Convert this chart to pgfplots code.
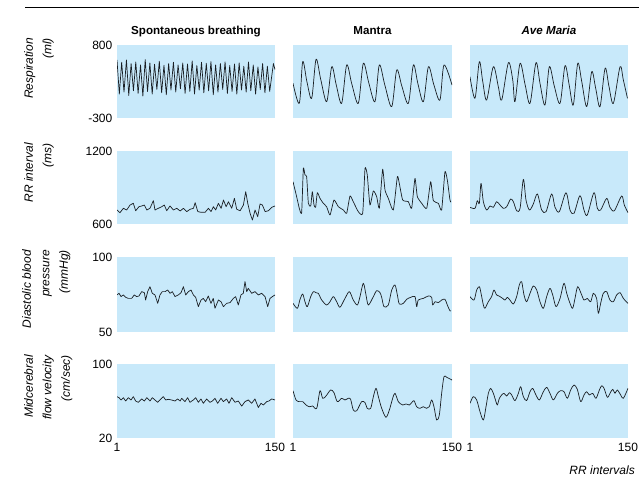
\documentclass[border=0pt]{standalone}
\usepackage{fontspec}
\setmainfont{Liberation Sans}
\usepackage{pgfplots}
\pgfplotsset{compat=1.18}
\definecolor{bgblue}{RGB}{200,233,250}
\definecolor{trace}{RGB}{25,30,35}
\newcommand{\fs}{\fontsize{12}{14}\selectfont}
\newcommand{\ls}{\fontsize{12}{18.5}\selectfont\itshape}
\pgfplotsset{
  panel/.style={scale only axis, width=158pt, height=73pt, xmin=1, xmax=150,
    axis background/.style={fill=bgblue, draw=none},
    axis line style={draw=none},
    major tick length=0pt, tick style={draw=none},
    xtick={1,150}, xticklabels={}, ytick=\empty,
    yticklabel style={font=\fs, inner sep=0pt, anchor=east, xshift=-4.5pt},
    xticklabel style={font=\fs, inner sep=0pt, anchor=north, yshift=-5pt},
    /pgf/number format/assume math mode=true,
    anchor=south west},
  pl/.style={trace, line width=0.7pt, line join=round, mark=none},
  sm/.style={pl, smooth, tension=0.5}
}
\begin{document}
\begin{tikzpicture}[x=1pt,y=1pt]
\useasboundingbox (0,0) rectangle (639,492);
\draw[line width=1pt] (25,484) -- (639,484);
% column titles
\node[anchor=base, font=\fontsize{11.6}{14}\selectfont\bfseries] at (196,457) {Spontaneous breathing};
\node[anchor=base, font=\fontsize{11.6}{14}\selectfont\bfseries] at (372.5,457) {Mantra};
\node[anchor=base, font=\fontsize{11.6}{14}\selectfont\bfseries\itshape] at (549,457) {Ave Maria};
% row labels
\node[rotate=90, anchor=north east, align=right, inner sep=0pt, font=\ls] at (24,454) {Respiration\\(ml)};
\node[rotate=90, anchor=north east, align=right, inner sep=0pt, font=\ls] at (24,349) {RR interval\\(ms)};
\node[rotate=90, anchor=north east, align=right, inner sep=0pt, font=\ls] at (22,242) {Diastolic blood\\pressure\\(mmHg)};
\node[rotate=90, anchor=north east, align=right, inner sep=0pt, font=\ls] at (24,137) {Midcerebral\\flow velocity\\(cm/sec)};
\node[anchor=base east, inner sep=0pt, font=\fs\itshape] at (635,17) {RR intervals};

% ---------- Row 1: Respiration ----------
\begin{axis}[panel, at={(117pt,374pt)}, ymin=-300, ymax=800, ytick={-300,800}, yticklabels={-300,800}]
\addplot[pl] coordinates {(1,574) (3.2,60) (5.4,540) (7.6,90) (9.9,575) (12.1,40) (14.3,520) (16.5,110) (18.7,545) (20.9,70) (23.2,500) (25.4,30) (27.6,580) (29.8,100) (32.0,530) (34.2,60) (36.4,510) (38.6,130) (40.9,555) (43.1,80) (45.3,495) (47.5,50) (49.7,520) (51.9,120) (54.2,540) (56.4,90) (58.6,500) (60.8,140) (63.0,530) (65.2,70) (67.5,515) (69.7,100) (71.9,560) (74.1,60) (76.3,490) (78.5,120) (80.7,540) (82.9,80) (85.2,525) (87.4,110) (89.6,550) (91.8,50) (94.0,500) (96.2,90) (98.5,520) (100.7,130) (102.9,545) (105.1,70) (107.3,490) (109.5,100) (111.8,515) (114.0,60) (116.2,530) (118.4,120) (120.6,480) (122.8,90) (125.0,545) (127.2,110) (129.5,500) (131.7,60) (133.9,470) (136.1,130) (138.3,520) (140.5,80) (142.8,480) (145.0,100) (148.5,520) (150,430)};
\end{axis}
\begin{axis}[panel, width=159pt, at={(293pt,374pt)}, ymin=-300, ymax=800]
\addplot[sm] coordinates {(1,223) (6.9,-79) (10.1,549) (14,250) (18.5,-3) (22.6,584) (27,280) (32.6,-54) (37.3,473) (41.5,200) (46.6,-79) (51.3,499) (56,220) (62.2,-79) (66.9,524) (72,230) (77.8,-54) (81.9,499) (87,200) (93.5,-129) (98.2,423) (103,180) (109.1,-79) (113.8,499) (118,220) (123.2,-54) (127.9,473) (133,200) (138.7,-29) (142.5,499) (150,197)};
\end{axis}
\begin{axis}[panel, at={(470pt,374pt)}, ymin=-300, ymax=800]
\addplot[sm] coordinates {(1,322) (5.7,-3) (9.8,549) (13,250) (16.7,-29) (23.0,473) (27.7,172) (30.9,-29) (37.2,533) (41.3,273) (43.4,-54) (48.2,524) (53,200) (57.6,-79) (63.2,533) (67,223) (71.7,-104) (75.8,473) (80.5,180) (85.9,-79) (90.6,488) (94.5,200) (98.4,-104) (102.6,524) (106.4,247) (111.1,-129) (115.8,398) (119.5,150) (123.6,-129) (128.4,449) (132,180) (136.2,-79) (142.5,473) (145.6,273) (149.5,-3)};
\end{axis}

% ---------- Row 2: RR interval ----------
\begin{axis}[panel, at={(117pt,268pt)}, ymin=600, ymax=1200, ytick={600,1200}, yticklabels={600,1200}]
\addplot[pl] coordinates {(1,715) (3.8,693) (7.0,729) (10.1,715) (13.3,756) (16.4,770) (18.6,709) (21.7,742) (24.3,748) (26.8,756) (29.1,715) (32.1,729) (35.3,792) (36.8,715) (40.0,729) (43.2,742) (45.6,756) (47.9,709) (51.0,748) (54.2,715) (57.4,729) (60.5,707) (63.7,729) (66.8,702) (70.0,721) (73.1,729) (74.7,775) (77.2,702) (80.3,696) (84.1,696) (87.2,729) (89.7,702) (91.9,742) (94.1,715) (96.6,770) (99.2,729) (101.4,797) (103.9,742) (106.1,783) (109.2,729) (111.7,811) (113.9,721) (117.1,709) (120.2,756) (122.4,866) (124.3,770) (126.5,688) (128.7,633) (131.2,715) (133.7,660) (135.9,764) (138.1,756) (140.7,702) (143.8,709) (146.9,737) (150,748)};
\end{axis}
\begin{axis}[panel, width=159pt, at={(293pt,268pt)}, ymin=600, ymax=1200]
\addplot[pl, smooth, tension=0.3] coordinates {(1,948) (4.4,825) (6.9,729) (9.1,693) (10.7,1058) (12.2,1003) (13.8,989) (15.4,770) (17.6,748) (19.1,866) (20.7,756) (22.2,737) (23.8,857) (26.3,811) (29.4,770) (32.5,742) (35.7,674) (39.4,797) (43.5,742) (48.2,715) (51.3,688) (54.4,830) (57.5,783) (62.2,701) (66.3,688) (68.5,1058) (70.6,1003) (73.1,756) (76.3,871) (79.4,825) (81.9,729) (85.0,1050) (87.2,879) (90.3,811) (95.0,715) (98.8,989) (100.6,934) (103.8,797) (109.1,783) (112.2,729) (115.3,975) (117.5,825) (121.6,770) (126.3,729) (130.0,948) (132.5,792) (137.2,770) (140.3,715) (143.4,1030) (145.6,962) (148.1,797) (149,780)};
\end{axis}
\begin{axis}[panel, at={(470pt,268pt)}, ymin=600, ymax=1200]
\addplot[sm] coordinates {(1,737) (5.7,729) (7.9,792) (9.8,770) (11.4,934) (13.6,783) (16.7,715) (19.9,748) (23.0,737) (26.1,783) (29.3,756) (32.4,729) (35.6,742) (39.3,805) (41.9,783) (45.0,709) (48.2,729) (51.3,967) (53.8,797) (57.0,715) (60.7,764) (64.5,847) (68.6,715) (72.7,701) (78.0,847) (81.2,737) (85.2,701) (91.5,857) (95.3,715) (99.1,688) (104.7,833) (108.5,715) (111.6,674) (117.9,857) (121.1,729) (124.2,715) (129.9,811) (133.0,737) (137.1,709) (144.0,830) (146.5,756) (150,693)};
\end{axis}

% ---------- Row 3: Diastolic blood pressure ----------
\begin{axis}[panel, height=75pt, at={(117pt,160pt)}, ymin=50, ymax=100, ytick={50,100}, yticklabels={50,100}]
\addplot[pl] coordinates {(1,74.7) (2.9,75.8) (4.8,73.6) (7.0,74.7) (9.2,73.1) (11.7,72.4) (14.8,72.4) (17.3,74.7) (19.5,73.6) (21.7,74.0) (24.3,76.9) (26.8,76.2) (28.0,71.3) (29.9,76.9) (32.1,80.2) (34.3,75.8) (36.8,74.7) (39.4,69.1) (41.5,74.7) (43.7,76.9) (46.3,76.9) (48.8,78.0) (51.0,75.8) (53.2,76.9) (55.7,73.6) (58.8,74.7) (61.4,76.2) (63.6,80.2) (65.8,74.7) (68.3,76.9) (70.8,78.0) (73.0,74.7) (75.2,73.1) (77.7,66.9) (80.2,71.3) (82.4,72.4) (84.6,70.2) (87.1,74.0) (89.6,69.1) (91.8,72.4) (93.4,65.8) (96.6,71.3) (99.1,70.2) (101.3,66.9) (104.4,69.1) (107.6,69.6) (110.7,72.4) (112.9,73.6) (115.4,68.0) (117.9,74.7) (120.1,75.8) (121.7,83.6) (123.3,76.9) (124.8,79.1) (128.0,75.8) (131.1,76.9) (134.3,74.7) (137.4,75.8) (140.6,73.6) (143.1,66.9) (145.3,72.4) (147.5,73.6) (150,74.7)};
\end{axis}
\begin{axis}[panel, width=159pt, height=75pt, at={(293pt,160pt)}, ymin=50, ymax=100]
\addplot[sm] coordinates {(1,69.1) (5.1,65.8) (7.6,71.8) (10.1,75.3) (12.2,70.2) (14.4,66.9) (17.6,73.6) (20.1,76.9) (22.6,76.2) (24.7,75.8) (27.9,71.3) (32.5,68.0) (35.7,70.2) (38.8,73.6) (41.9,70.2) (45.0,66.5) (49.7,72.4) (53.8,76.9) (57.5,71.3) (61.3,68.0) (63.8,73.6) (66.9,82.5) (69.4,74.7) (71.6,68.0) (76.3,73.6) (79.4,77.6) (82.5,76.2) (84.1,73.1) (86.3,66.9) (90.3,68.0) (93.5,78.0) (96.6,81.3) (98.8,74.7) (100.6,68.7) (104.4,69.1) (107.5,71.8) (111.3,73.1) (115.3,73.6) (116.9,66.9) (118.4,71.3) (123.1,72.4) (127.8,74.0) (130.9,73.1) (131.9,68.0) (134.1,70.2) (137.2,69.6) (140.3,71.3) (143.4,71.8) (145.6,68.0) (148,64.2) (149,64)};
\end{axis}
\begin{axis}[panel, height=75pt, at={(470pt,160pt)}, ymin=50, ymax=100]
\addplot[sm] coordinates {(1,73.6) (4.8,71.3) (7.3,78.0) (9.8,80.2) (11.4,75.8) (13.6,68.0) (15.1,65.8) (18.3,70.2) (21.4,73.6) (23.6,78.0) (26.1,74.7) (29.3,73.6) (31.8,72.4) (34.0,71.3) (36.2,73.1) (38.7,71.3) (41.9,68.7) (45.0,73.6) (47.5,81.3) (49.7,83.6) (51.9,74.7) (54.4,70.2) (57.6,75.8) (60.7,80.7) (63.9,78.0) (67.0,70.2) (70.2,65.8) (73.3,73.6) (76.4,79.1) (79.0,74.7) (82.1,66.9) (85.9,72.4) (89.6,82.5) (92.2,75.8) (95.3,69.1) (97.8,65.8) (100.0,72.4) (102.5,80.2) (105.7,75.8) (108.5,71.3) (111.6,72.4) (114.8,70.2) (117.3,75.8) (120.4,72.4) (122.0,62.4) (124.2,69.1) (126.7,75.8) (129.9,76.9) (133.0,71.3) (136.2,70.2) (139.3,74.7) (142.5,76.2) (145.6,72.4) (150,69.1)};
\end{axis}

% ---------- Row 4: Midcerebral flow velocity ----------
\begin{axis}[panel, height=74pt, at={(117pt,54pt)}, ymin=20, ymax=100, ytick={20,100}, yticklabels={20,100}, xticklabels={1,150}]
\addplot[pl] coordinates {(1,64.7) (2.9,63.6) (4.8,61.1) (7.0,63.6) (9.2,60.0) (11.7,63.6) (14.2,61.1) (16.4,64.7) (18.6,60.0) (21.1,58.6) (24.3,62.2) (26.8,60.0) (29.1,63.6) (32.1,60.0) (34.3,63.6) (36.8,61.1) (39.4,58.6) (41.5,61.1) (44.7,64.7) (46.9,61.1) (49.4,61.8) (52.5,61.1) (55.7,60.0) (58.2,62.2) (60.5,60.0) (62.0,62.9) (65.1,59.3) (67.6,63.6) (69.8,58.6) (73.0,61.1) (75.2,63.6) (77.7,58.6) (80.2,62.2) (82.4,57.5) (85.6,62.2) (88.7,58.6) (90.9,60.0) (93.4,62.9) (95.9,57.5) (99.1,62.9) (101.3,59.3) (104.4,62.2) (106.6,57.5) (109.2,63.6) (112.3,58.6) (115.4,60.0) (118.6,54.5) (121.7,59.3) (124.8,61.1) (128.0,57.5) (131.1,62.2) (134.3,53.0) (136.8,57.5) (139.0,55.7) (142.1,59.3) (144.3,60.0) (146.9,62.2) (150,61.1)};
\end{axis}
\begin{axis}[panel, width=159pt, height=74pt, at={(293pt,54pt)}, ymin=20, ymax=100, xticklabels={1,150}]
\addplot[sm] coordinates {(1,71.2) (3.8,61.1) (6.9,59.3) (10.1,59.3) (13.2,55.7) (16.3,53.8) (19.4,54.6) (23.2,52.1) (26.3,71.2) (28.8,62.9) (31.9,65.4) (36.3,71.9) (39.4,69.0) (42.5,59.3) (46.6,62.9) (49.7,61.1) (52.8,62.9) (55.0,61.8) (57.5,50.3) (60.7,49.5) (65.3,59.3) (68.5,58.2) (70.6,52.1) (73.8,52.1) (76.3,64.7) (78.8,73.7) (81.0,64.7) (84.1,52.1) (88.1,42.4) (91.3,50.3) (94.4,62.9) (96.6,68.3) (99.7,59.3) (103.8,55.7) (106.9,56.8) (110.0,55.7) (112.2,58.2) (114.4,60.4) (116.9,53.8) (120.0,52.1) (123.1,53.8) (126.2,52.1) (128.7,53.8) (130.9,61.1) (133.1,53.8) (135.6,39.5) (138.1,44.9) (140.3,68.3) (142.5,86.3) (145.0,85.6) (150,82.7)};
\end{axis}
\begin{axis}[panel, height=74pt, at={(470pt,54pt)}, ymin=20, ymax=100, xticklabels={1,150}]
\addplot[sm] coordinates {(1,57.5) (4.1,64.7) (7.3,61.1) (10.4,48.5) (13.6,39.5) (16.1,53.8) (18.3,68.3) (20.5,73.7) (23.0,68.3) (25.5,59.3) (26.8,55.7) (28.7,62.9) (30.9,66.5) (33.1,68.3) (35.6,65.4) (38.1,69.0) (40.3,66.5) (43.4,60.4) (46.6,68.3) (48.8,75.5) (51.3,64.7) (54.4,60.4) (57.6,70.1) (60.1,73.7) (63.2,66.5) (66.4,61.1) (70.2,70.1) (73.3,74.8) (76.4,68.3) (79.6,61.1) (83.4,68.3) (86.5,71.2) (89.6,70.1) (92.8,62.9) (95.9,71.9) (99.1,77.3) (102.2,72.6) (105.4,59.3) (108.5,66.5) (111.0,70.1) (113.5,66.5) (116.7,68.3) (119.8,62.9) (123.0,71.9) (125.2,76.5) (127.4,73.7) (130.5,64.0) (133.0,68.3) (135.5,72.6) (137.7,68.3) (139.9,71.9) (143.1,66.5) (145.6,62.9) (150,73.7)};
\end{axis}
\end{tikzpicture}
\end{document}
